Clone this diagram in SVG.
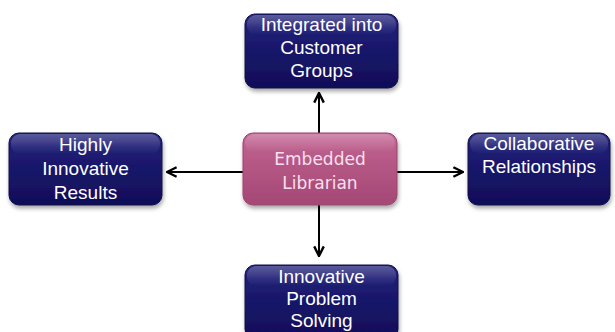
<svg xmlns="http://www.w3.org/2000/svg" width="615" height="332" viewBox="0 0 615 332">
<style>
.box{fill:url(#navy);stroke:#101048;stroke-width:1;filter:url(#sh)}
.gloss{fill:url(#glossG)}
.t{font-family:"Liberation Sans",Arial,sans-serif;font-size:19px;fill:#ffffff;text-anchor:middle}
.c{font-family:"DejaVu Sans",Verdana,sans-serif;font-size:17px;fill:#f8e0ee;text-anchor:middle}
.conn{stroke:#000;stroke-width:2;fill:none;marker-end:url(#ah)}
</style>
<defs>
<linearGradient id="navy" x1="0" y1="0" x2="0" y2="1">
<stop offset="0" stop-color="#23237c"/>
<stop offset="0.5" stop-color="#18166a"/>
<stop offset="1" stop-color="#100e58"/>
</linearGradient>
<linearGradient id="pink" x1="0" y1="0" x2="0" y2="1">
<stop offset="0" stop-color="#c26592"/>
<stop offset="0.5" stop-color="#b35583"/>
<stop offset="1" stop-color="#a44876"/>
</linearGradient>
<linearGradient id="glossG" x1="0" y1="0" x2="0" y2="1">
<stop offset="0" stop-color="#ffffff" stop-opacity="0.25"/>
<stop offset="1" stop-color="#ffffff" stop-opacity="0"/>
</linearGradient>
<filter id="sh" x="-10%" y="-10%" width="125%" height="135%">
<feGaussianBlur in="SourceAlpha" stdDeviation="2"/>
<feOffset dx="1" dy="3" result="b"/>
<feComponentTransfer><feFuncA type="linear" slope="0.35"/></feComponentTransfer>
<feMerge><feMergeNode/><feMergeNode in="SourceGraphic"/></feMerge>
</filter>
<marker id="ah" viewBox="0 0 10 10" refX="9" refY="5" markerWidth="6" markerHeight="6" orient="auto" markerUnits="strokeWidth">
<path d="M1,1 L9,5 L1,9" fill="none" stroke="#000" stroke-width="2"/>
</marker>
</defs>
<rect width="615" height="332" fill="#ffffff"/>
<g id="connectors">
<line class="conn" x1="319" y1="133" x2="319" y2="93"/>
<line class="conn" x1="319" y1="205" x2="319" y2="256"/>
<line class="conn" x1="243" y1="172" x2="167" y2="172"/>
<line class="conn" x1="397" y1="172" x2="463" y2="172"/>
</g>
<g id="top">
<rect class="box" x="245" y="14" width="153" height="74" rx="10"/>
<rect class="gloss" x="247" y="15" width="149" height="20" rx="9"/>
<text class="t" x="321.5" y="31">Integrated into</text>
<text class="t" x="321.5" y="54">Customer</text>
<text class="t" x="321.5" y="77">Groups</text>
</g>
<g id="center">
<rect x="243" y="133" width="154" height="72" rx="10" fill="url(#pink)" stroke="#9a4470" stroke-width="1" filter="url(#sh)"/>
<rect class="gloss" x="245" y="134" width="150" height="18" rx="9"/>
<text class="c" x="320" y="165">Embedded</text>
<text class="c" x="320" y="189">Librarian</text>
</g>
<g id="left">
<rect class="box" x="9" y="133" width="153" height="72" rx="10"/>
<rect class="gloss" x="11" y="134" width="149" height="20" rx="9"/>
<text class="t" x="85.5" y="151">Highly</text>
<text class="t" x="85.5" y="175">Innovative</text>
<text class="t" x="85.5" y="199">Results</text>
</g>
<g id="right">
<rect class="box" x="468" y="133" width="142" height="72" rx="10"/>
<rect class="gloss" x="470" y="134" width="138" height="20" rx="9"/>
<text class="t" x="539" y="150">Collaborative</text>
<text class="t" x="539" y="173">Relationships</text>
</g>
<g id="bottom">
<rect class="box" x="245" y="265" width="153" height="74" rx="10"/>
<rect class="gloss" x="247" y="266" width="149" height="20" rx="9"/>
<text class="t" x="321.5" y="283">Innovative</text>
<text class="t" x="321.5" y="305">Problem</text>
<text class="t" x="321.5" y="327">Solving</text>
</g>
</svg>
